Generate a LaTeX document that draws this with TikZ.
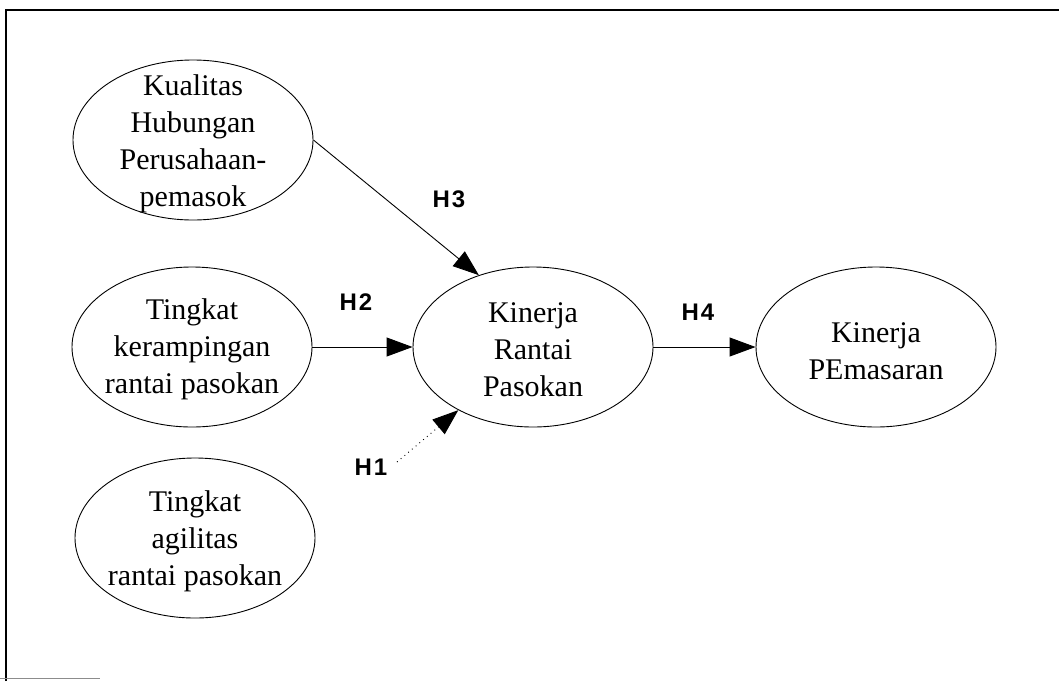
\documentclass[tikz,border=0pt]{standalone}
\usepackage{fontspec}
\setmainfont{Liberation Serif}
\newfontfamily\labelfont[LetterSpace=8]{Liberation Sans}
\usetikzlibrary{shapes.geometric,arrows.meta}

\tikzset{
  construct/.style={ellipse, draw, line width=0.9pt, minimum width=240pt, minimum height=160pt, inner sep=0pt},
  ctext/.style={align=center, font=\fontsize{30}{37}\selectfont, inner sep=0pt},
  hyp/.style={font=\labelfont\bfseries\fontsize{24}{28}\selectfont},
  path/.style={line width=0.9pt, -{Triangle[length=26pt, width=19pt]}},
  frame/.style={line width=2.4pt}
}

\begin{document}
\begin{tikzpicture}[x=1pt, y=-1pt]
  \useasboundingbox (0,0) rectangle (1059,681);

  % outer frame (top and left edges, faint bottom stub)
  \draw[frame] (6,681) -- (6,10) -- (1059,10);
  \draw[line width=1pt, black!45] (0,678) -- (100,678);

  % constructs
  \node[construct] (kual) at (193,140) {};
  \node[construct] (kerp) at (192,347) {};
  \node[construct] (agil) at (195,538) {};
  \node[construct] (kin)  at (533,347) {};
  \node[construct] (pem)  at (876,347) {};

  \node[ctext] at (193,144) {Kualitas\\Hubungan\\Perusahaan-\\pemasok};
  \node[ctext] at (192,349) {Tingkat\\kerampingan\\rantai pasokan};
  \node[ctext] at (195,541) {Tingkat\\agilitas\\rantai pasokan};
  \node[ctext] at (533,350) {Kinerja\\Rantai\\Pasokan};
  \node[ctext] at (876,351) {Kinerja\\PEmasaran};

  % hypothesised paths
  \coordinate (h1s) at (397,462);
  \draw[path] (kual.east) -- (kin.127);
  \draw[path] (kerp.east) -- (kin.west);
  \draw[path, loosely dotted] (h1s) -- (kin);
  \draw[path] (kin.east) -- (pem.west);

  % path labels
  \node[hyp] (l3) at (449,199) {H3};
  \node[hyp] (l2) at (356,302) {H2};
  \node[hyp] (l1) at (371,467) {H1};
  \node[hyp] (l4) at (698,312) {H4};
\end{tikzpicture}
\end{document}
